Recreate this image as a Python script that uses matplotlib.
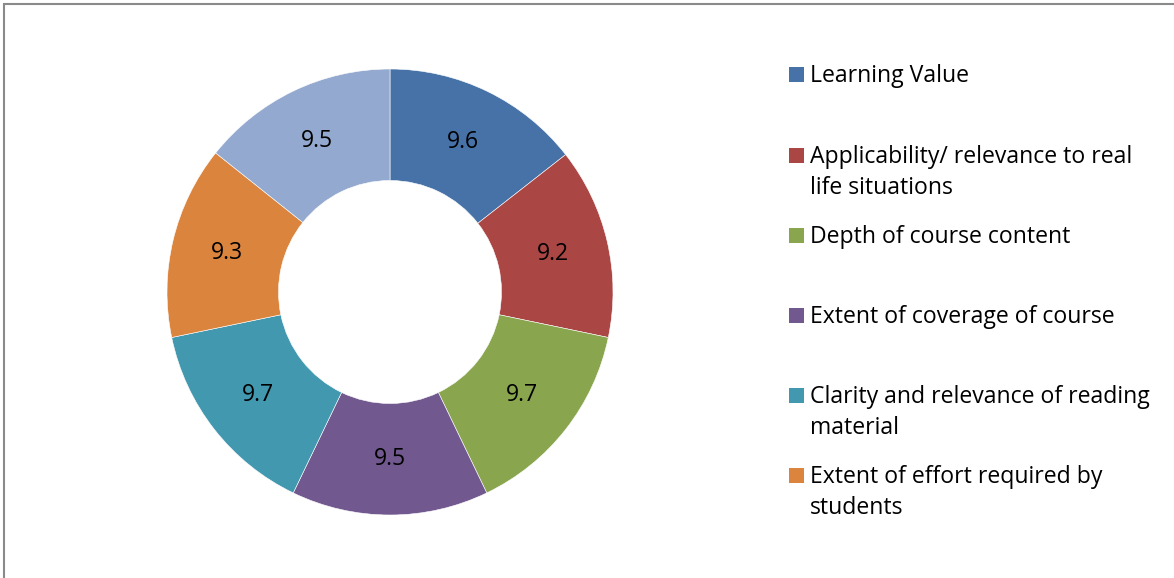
import matplotlib.pyplot as plt
from matplotlib.patches import Rectangle

# course feedback scores, clockwise from the top
values = [9.6, 9.2, 9.7, 9.5, 9.7, 9.3, 9.5]
colors = ['#4672A8', '#AA4644', '#89A54E', '#71588F', '#4298AF', '#DB843D', '#93A9CF']
legend_labels = [
    'Learning Value',
    'Applicability/ relevance to real\nlife situations',
    'Depth of course content',
    'Extent of coverage of course',
    'Clarity and relevance of reading\nmaterial',
    'Extent of effort required by\nstudents',
]

W, H = 1174, 578
plt.rcParams['font.family'] = ['Open Sans', 'DejaVu Sans']
FS = 16.6

fig = plt.figure(figsize=(W / 100, H / 100), dpi=100)


def px(x, y):
    # pixel position (from top-left) to figure fraction
    return x / W, 1 - y / H


# chart border, runs off the right and bottom edge
top = 1 - 4 / H
fig.patches.append(Rectangle((4 / W, -0.5), 1.2, top + 0.5, transform=fig.transFigure,
                             fill=False, edgecolor='#8a8a8a', linewidth=1.5))

# donut
cx, cy, r = 390, 292, 223
ax = fig.add_axes([(cx - r) / W, 1 - (cy + r) / H, 2 * r / W, 2 * r / H])
wedges, texts = ax.pie(values, colors=colors, startangle=90, counterclock=False,
                       radius=1, labels=[f'{v:.1f}' for v in values], labeldistance=0.75,
                       wedgeprops=dict(width=0.5, edgecolor='white', linewidth=0.4),
                       textprops=dict(fontsize=FS, color='black', ha='center', va='center'))
ax.set_xlim(-1, 1)
ax.set_ylim(-1, 1)
ax.set_aspect('auto')
ax.axis('off')

# legend, one text per line so each sits on its own baseline
baselines = [82, 163, 243, 323, 403, 483]
for lab, col, yb in zip(legend_labels, colors, baselines):
    x0, y0 = px(789, yb)
    fig.patches.append(Rectangle((x0, y0), 15 / W, 15 / H, transform=fig.transFigure,
                                 facecolor=col, edgecolor='none'))
    for i, line in enumerate(lab.split('\n')):
        tx, ty = px(810, yb + 31 * i)
        fig.text(tx, ty, line, fontsize=FS, va='baseline', ha='left')

fig.savefig('out.png', dpi=100)
